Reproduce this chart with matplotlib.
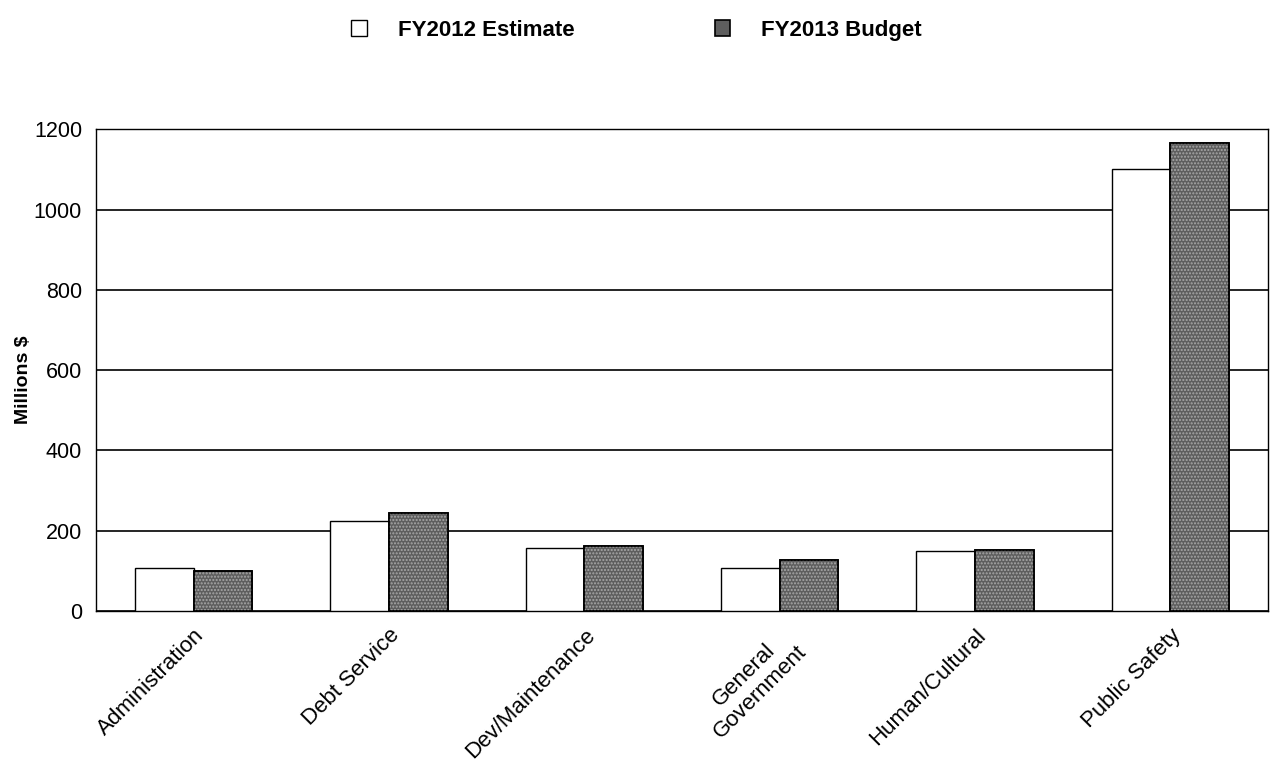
import numpy as np
import matplotlib.pyplot as plt
import matplotlib.transforms as mtrans

# spending by function, millions of dollars
categories = ['Administration', 'Debt Service', 'Dev/Maintenance',
              'General\nGovernment', 'Human/Cultural', 'Public Safety']
fy2012_est = [107, 223, 157, 108, 150, 1100]
fy2013_bud = [99, 243, 162, 126, 152, 1166]

plt.rcParams['font.family'] = ['Liberation Sans', 'DejaVu Sans']

fig = plt.figure(figsize=(12.73, 7.65), dpi=100)
ax = fig.add_axes([0.0754, 0.2013, 0.9206, 0.6297])

x = np.arange(len(categories))
w = 0.3
b1 = ax.bar(x - w/2, fy2012_est, w, color='white', edgecolor='black',
            linewidth=1.0, label='FY2012 Estimate', zorder=3)
b2 = ax.bar(x + w/2, fy2013_bud, w, color='#5e5e5e', edgecolor='black',
            linewidth=1.2, label='FY2013 Budget', zorder=3)
# speckled texture over the budget bars
ax.bar(x + w/2, fy2013_bud, w, color='none', edgecolor='#a8a8a8',
       hatch='.....', linewidth=0, zorder=4)
ax.bar(x + w/2, fy2013_bud, w, color='none', edgecolor='black',
       linewidth=1.2, zorder=5)

ax.set_xlim(-0.5, len(categories) - 0.5)
ax.set_ylim(0, 1200)
ax.set_yticks(np.arange(0, 1201, 200))
ax.yaxis.grid(True, color='black', linewidth=1.2, zorder=0)
ax.set_axisbelow(True)
ax.set_xticks(x)
ax.set_xticklabels(categories, rotation=45, ha='right', rotation_mode='anchor',
                   fontsize=16, linespacing=1.1)
shift = mtrans.ScaledTranslation(28/100, 0, fig.dpi_scale_trans)
for lbl in ax.get_xticklabels():
    lbl.set_transform(lbl.get_transform() + shift)
    lbl.set_multialignment('center')
ax.tick_params(axis='x', length=0, pad=10)
ax.tick_params(axis='y', labelsize=15.5, length=0, pad=10)
for s in ax.spines.values():
    s.set_linewidth(1.0)
ax.set_ylabel('Millions $', fontsize=14, fontweight='bold')
ax.yaxis.set_label_coords(-0.055, 0.48)

fig.legend(handles=[b1, b2], loc='upper center', bbox_to_anchor=(0.5, 1.0),
           ncol=2, frameon=False, prop={'weight': 'bold', 'size': 16},
           handlelength=0.7, handleheight=0.7, handletextpad=1.4,
           columnspacing=6.3)

fig.savefig('out.png', dpi=100)
